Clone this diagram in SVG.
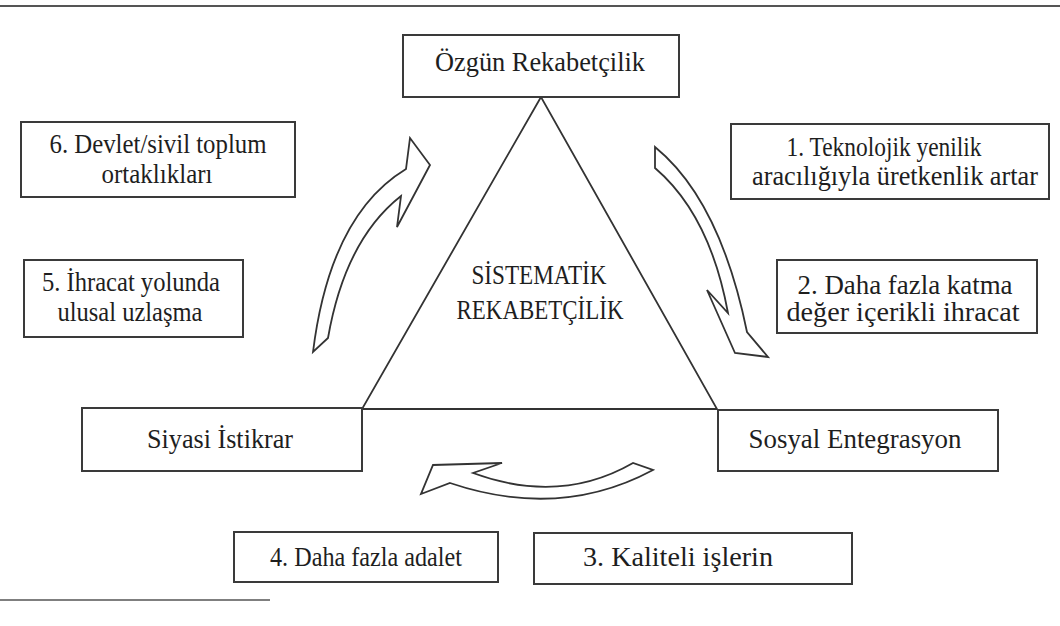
<svg xmlns="http://www.w3.org/2000/svg" width="1060" height="626" viewBox="0 0 1060 626">
<style>
.box{fill:#fff;stroke:#3a3a3a;stroke-width:2}
.t{font-family:"Liberation Serif","DejaVu Serif",serif;font-size:27px;fill:#1e1e1e;text-anchor:middle}
.arrow{fill:#fff;stroke:#333;stroke-width:1.8;stroke-linejoin:miter}
.line{stroke:#333;stroke-width:1.8;fill:none}
</style>
<rect width="1060" height="626" fill="#fff"/>
<line x1="0" y1="6" x2="1060" y2="6" stroke="#555" stroke-width="2"/>
<line x1="0" y1="600" x2="270" y2="600" stroke="#555" stroke-width="1.5"/>
<g id="connectors">
<polygon class="line" points="541,97 362,409 717,409"/>
<path class="arrow" d="M655,147 Q720,200 747,332 L768,357 L735,353 L707,290 L728,313 Q710,215 655,168 Z"/>
<path class="arrow" d="M313,352 Q330,215 406,169 L410,138 L430,165 L397,227 L401,196 Q345,240 328,338 Z"/>
<path class="arrow" d="M653,470 Q560,520 450,483 L421,494 L433,465 L502,463 L473,473 Q560,505 633,463 Z"/>
</g>
<g id="center">
<text class="t" x="539" y="284" textLength="135" lengthAdjust="spacingAndGlyphs">SİSTEMATİK</text>
<text class="t" x="540" y="319" textLength="167" lengthAdjust="spacingAndGlyphs">REKABETÇİLİK</text>
</g>
<g id="ozgun">
<rect class="box" x="403" y="35" width="276" height="62"/>
<text class="t" x="540" y="71" textLength="210" lengthAdjust="spacingAndGlyphs">Özgün Rekabetçilik</text>
</g>
<g id="n1">
<rect class="box" x="731" y="124" width="318" height="75"/>
<text class="t" x="884" y="156" textLength="195" lengthAdjust="spacingAndGlyphs">1. Teknolojik yenilik</text>
<text class="t" x="895" y="185" textLength="286" lengthAdjust="spacingAndGlyphs">aracılığıyla üretkenlik artar</text>
</g>
<g id="n2">
<rect class="box" x="777" y="260" width="260" height="73"/>
<text class="t" x="905" y="294" textLength="215" lengthAdjust="spacingAndGlyphs">2. Daha fazla katma</text>
<text class="t" x="903" y="321" textLength="233" lengthAdjust="spacingAndGlyphs">değer içerikli ihracat</text>
</g>
<g id="n6">
<rect class="box" x="21" y="122" width="274" height="75"/>
<text class="t" x="158" y="153" textLength="217" lengthAdjust="spacingAndGlyphs">6. Devlet/sivil toplum</text>
<text class="t" x="157" y="183" textLength="111" lengthAdjust="spacingAndGlyphs">ortaklıkları</text>
</g>
<g id="n5">
<rect class="box" x="24" y="260" width="219" height="77"/>
<text class="t" x="131" y="291" textLength="178" lengthAdjust="spacingAndGlyphs">5. İhracat yolunda</text>
<text class="t" x="130" y="321" textLength="145" lengthAdjust="spacingAndGlyphs">ulusal uzlaşma</text>
</g>
<g id="siyasi">
<rect class="box" x="82" y="408" width="280" height="63"/>
<text class="t" x="220" y="448" textLength="146" lengthAdjust="spacingAndGlyphs">Siyasi İstikrar</text>
</g>
<g id="sosyal">
<rect class="box" x="718" y="410" width="280" height="61"/>
<text class="t" x="855" y="448" textLength="213" lengthAdjust="spacingAndGlyphs">Sosyal Entegrasyon</text>
</g>
<g id="n4">
<rect class="box" x="234" y="532" width="264" height="50"/>
<text class="t" x="366" y="566" textLength="192" lengthAdjust="spacingAndGlyphs">4. Daha fazla adalet</text>
</g>
<g id="n3">
<rect class="box" x="534" y="533" width="318" height="51"/>
<text class="t" x="678" y="566" textLength="190" lengthAdjust="spacingAndGlyphs">3. Kaliteli işlerin</text>
</g>
</svg>
